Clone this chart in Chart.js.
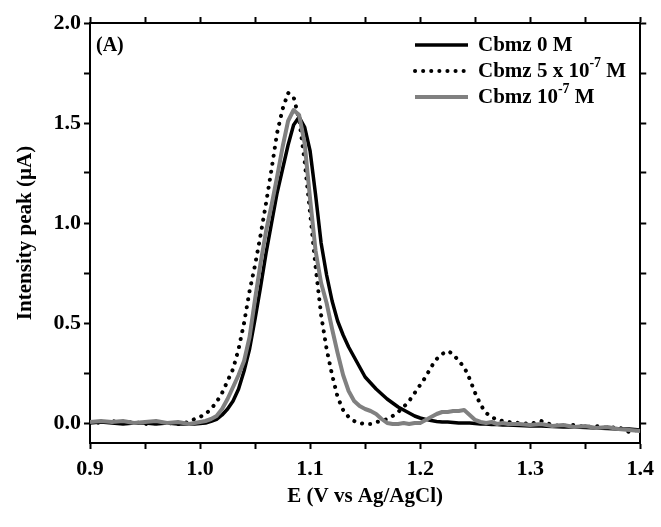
<!DOCTYPE html>
<html>
<head>
<meta charset="utf-8">
<script src="https://cdn.jsdelivr.net/npm/chart.js@4/dist/chart.umd.min.js"></script>
<style>
  html, body { margin: 0; padding: 0; background: #fff; }
  #wrap { width: 661px; height: 527px; }
</style>
</head>
<body>
<div id="wrap"><canvas id="myChart"></canvas></div>
<script>
// Potencial (V vs Ag/AgCl)
const potentials = [
  0.90, 0.91, 0.92, 0.93, 0.94, 0.95, 0.96, 0.97, 0.98, 0.99,
  0.995, 1.000, 1.005, 1.010, 1.015, 1.020, 1.025, 1.030, 1.035, 1.040,
  1.045, 1.050, 1.055, 1.060, 1.065, 1.070, 1.075, 1.080, 1.085, 1.090,
  1.095, 1.100, 1.105, 1.110, 1.115, 1.120, 1.125, 1.130, 1.135, 1.140,
  1.145, 1.150, 1.155, 1.160, 1.165, 1.170, 1.175, 1.180, 1.185, 1.190,
  1.195, 1.200, 1.205, 1.210, 1.215, 1.220, 1.225, 1.230, 1.235, 1.240,
  1.245, 1.250, 1.255, 1.260, 1.265, 1.270, 1.275, 1.280,
  1.29, 1.30, 1.31, 1.32, 1.33, 1.34, 1.35, 1.36, 1.37, 1.38, 1.39, 1.40
];

// Corrente (µA) para cada concentração
const cbmz0 = [
  0.00, 0.005, 0.00, -0.005, 0.00, 0.00, -0.005, 0.00, -0.005, -0.005,
  -0.005, -0.002, 0.00, 0.008, 0.018, 0.04, 0.07, 0.11, 0.17, 0.26,
  0.37, 0.52, 0.68, 0.85, 1.00, 1.15, 1.27, 1.39, 1.49, 1.53,
  1.48, 1.36, 1.14, 0.90, 0.74, 0.61, 0.51, 0.44, 0.38, 0.33,
  0.28, 0.23, 0.20, 0.17, 0.145, 0.12, 0.10, 0.08, 0.065, 0.05,
  0.035, 0.025, 0.018, 0.012, 0.008, 0.005, 0.005, 0.003, 0.00, 0.00,
  0.00, -0.002, -0.005, -0.005, -0.008, -0.008, -0.01, -0.01,
  -0.012, -0.015, -0.015, -0.018, -0.02, -0.02, -0.022, -0.025, -0.028, -0.03, -0.03, -0.035
];

const cbmz5e7 = [
  0.005, 0.00, 0.01, 0.00, 0.005, -0.005, 0.00, 0.00, -0.005, 0.005,
  0.02, 0.03, 0.045, 0.07, 0.105, 0.15, 0.21, 0.27, 0.37, 0.50,
  0.66, 0.79, 0.94, 1.10, 1.27, 1.45, 1.57, 1.65, 1.63, 1.52,
  1.31, 1.05, 0.78, 0.54, 0.37, 0.24, 0.13, 0.065, 0.03, 0.01,
  0.00, -0.005, -0.005, 0.005, 0.01, 0.02, 0.035, 0.055, 0.08, 0.11,
  0.15, 0.19, 0.23, 0.28, 0.32, 0.345, 0.36, 0.345, 0.31, 0.28,
  0.22, 0.15, 0.09, 0.05, 0.03, 0.015, 0.01, 0.005,
  0.00, -0.005, 0.01, -0.01, -0.015, -0.01, -0.02, -0.015, -0.025, -0.02, -0.045, -0.03
];

const cbmz1e7 = [
  0.005, 0.01, 0.005, 0.01, 0.00, 0.005, 0.01, 0.00, 0.005, -0.005,
  0.00, 0.005, 0.01, 0.02, 0.035, 0.07, 0.12, 0.18, 0.24, 0.31,
  0.43, 0.62, 0.80, 0.96, 1.09, 1.23, 1.38, 1.51, 1.565, 1.54,
  1.40, 1.12, 0.86, 0.70, 0.60, 0.47, 0.35, 0.24, 0.16, 0.11,
  0.085, 0.07, 0.06, 0.045, 0.02, 0.00, -0.005, -0.005, 0.00, -0.005,
  0.00, 0.00, 0.015, 0.03, 0.045, 0.055, 0.055, 0.06, 0.06, 0.065,
  0.04, 0.015, 0.005, 0.00, 0.005, -0.005, 0.00, -0.005,
  -0.005, -0.01, -0.005, -0.015, -0.01, -0.02, -0.015, -0.025, -0.02, -0.03, -0.035, -0.04
];

const seriesLabels = ['Cbmz 0 M', 'Cbmz 5 x 10^-7 M', 'Cbmz 10^-7 M'];
const panelLabel = '(A)';

const FONT = '"Liberation Serif", "Times New Roman", serif';

function toPoints(ys) {
  return potentials.map((x, i) => ({ x: x, y: ys[i] }));
}

// Legenda desenhada à mão (precisa de expoentes)
const customLegend = {
  id: 'customLegend',
  afterDraw(chart) {
    const ctx = chart.ctx;
    const rows = [45, 71, 97];
    const x0 = 415, len = 53, tx = 478;
    ctx.save();
    chart.data.datasets.forEach((ds, i) => {
      const y = rows[i];
      ctx.beginPath();
      ctx.strokeStyle = ds.borderColor;
      ctx.lineWidth = ds.borderWidth;
      ctx.lineCap = ds.borderCapStyle || 'butt';
      ctx.setLineDash(ds.borderDash || []);
      ctx.moveTo(x0, y);
      ctx.lineTo(x0 + len, y);
      ctx.stroke();
      ctx.setLineDash([]);

      // texto com expoente
      const parts = ds.label.split(/\^(\S+)/);
      let x = tx;
      ctx.fillStyle = '#000';
      ctx.textBaseline = 'middle';
      parts.forEach((p, k) => {
        if (k % 2 === 1) {
          ctx.font = 'bold 14px ' + FONT;
          ctx.fillText(p, x, y - 8);
        } else {
          ctx.font = 'bold 21px ' + FONT;
          ctx.fillText(p, x, y + 1);
        }
        x += ctx.measureText(p).width;
      });
    });

    ctx.font = 'bold 20px ' + FONT;
    ctx.fillText(panelLabel, 96, 46);
    ctx.restore();
  }
};

const tickStyle = {
  drawOnChartArea: false,
  drawTicks: true,
  tickLength: 6,
  tickWidth: 2,
  tickColor: '#000'
};
const borderStyle = { display: true, color: '#000', width: 2 };

const ctx = document.getElementById('myChart').getContext('2d');
const myChart = new Chart(ctx, {
  type: 'line',
  data: {
    datasets: [
      {
        label: seriesLabels[0],
        data: toPoints(cbmz0),
        borderColor: '#000',
        borderWidth: 3.5,
        order: 2
      },
      {
        label: seriesLabels[1],
        data: toPoints(cbmz5e7),
        borderColor: '#000',
        borderWidth: 4,
        borderDash: [0.1, 8],
        borderCapStyle: 'round',
        order: 1
      },
      {
        label: seriesLabels[2],
        data: toPoints(cbmz1e7),
        borderColor: '#808080',
        borderWidth: 4,
        order: 0
      }
    ]
  },
  options: {
    responsive: true,
    maintainAspectRatio: false,
    animation: false,
    events: [],
    layout: { padding: 0 },
    elements: {
      point: { radius: 0 },
      line: { tension: 0, fill: false, borderJoinStyle: 'round' }
    },
    plugins: {
      legend: { display: false },
      tooltip: { enabled: false }
    },
    scales: {
      x: {
        type: 'linear',
        position: 'bottom',
        min: 0.9,
        max: 1.4,
        grid: tickStyle,
        border: borderStyle,
        ticks: {
          stepSize: 0.05,
          autoSkip: false,
          maxRotation: 0,
          padding: 7,
          color: '#000',
          font: { family: FONT, size: 22, weight: 'bold' },
          callback: (v) => Math.abs(v * 10 - Math.round(v * 10)) < 1e-6 ? v.toFixed(1) : ''
        },
        title: {
          display: true,
          text: 'E (V vs Ag/AgCl)',
          color: '#000',
          font: { family: FONT, size: 21, weight: 'bold' },
          padding: { bottom: 18 }
        },
        afterFit: (s) => { s.height = 84; }
      },
      x2: {
        type: 'linear',
        position: 'top',
        min: 0.9,
        max: 1.4,
        grid: tickStyle,
        border: borderStyle,
        ticks: { display: false, stepSize: 0.05, autoSkip: false },
        afterFit: (s) => { s.height = 23; }
      },
      y: {
        type: 'linear',
        position: 'left',
        min: -0.1,
        max: 2.0,
        grid: tickStyle,
        border: borderStyle,
        ticks: {
          stepSize: 0.25,
          includeBounds: false,
          autoSkip: false,
          padding: 3,
          color: '#000',
          font: { family: FONT, size: 22, weight: 'bold' },
          callback: (v) => Math.abs(v * 2 - Math.round(v * 2)) < 1e-6 ? v.toFixed(1) : ''
        },
        title: {
          display: true,
          text: 'Intensity peak (µA)',
          color: '#000',
          font: { family: FONT, size: 21, weight: 'bold' },
          padding: { top: 13 }
        },
        afterFit: (s) => { s.width = 90; }
      },
      y2: {
        type: 'linear',
        position: 'right',
        min: -0.1,
        max: 2.0,
        grid: tickStyle,
        border: borderStyle,
        ticks: { display: false, stepSize: 0.25, includeBounds: false, autoSkip: false },
        afterFit: (s) => { s.width = 16; }
      }
    }
  },
  plugins: [customLegend]
});
</script>
</body>
</html>
